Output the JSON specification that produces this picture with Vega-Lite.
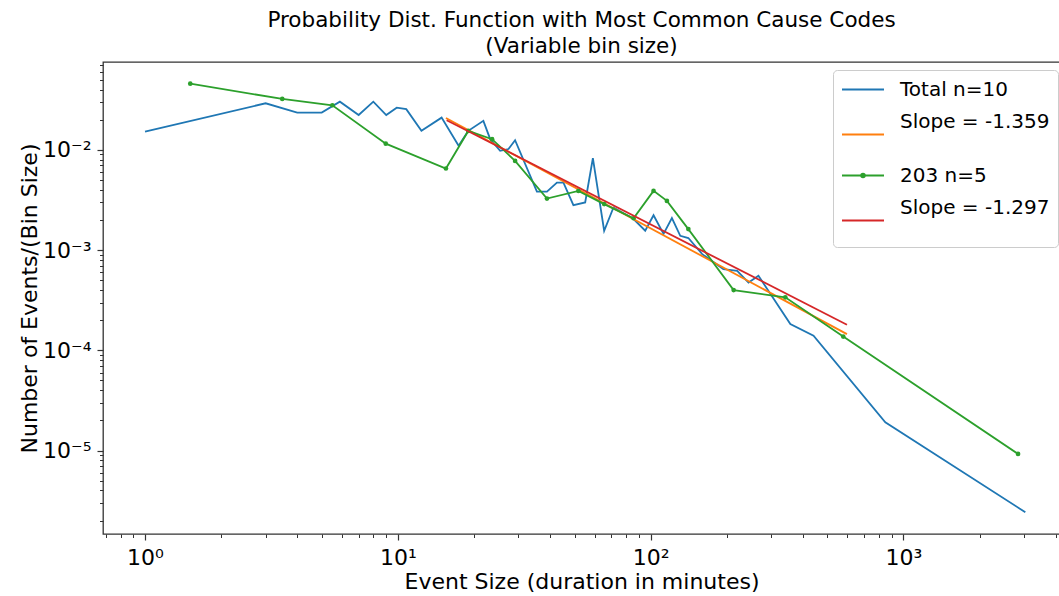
{
  "$schema": "https://vega.github.io/schema/vega-lite/v6.json",
  "width": 957,
  "height": 472,
  "autosize": {"type": "none"},
  "padding": {"left": 103, "top": 62, "right": 0, "bottom": 62},
  "config": {
    "font": "DejaVu Sans",
    "view": {"stroke": "#333333", "strokeWidth": 1.3},
    "axis": {
      "grid": false,
      "domain": false,
      "labelFont": "DejaVu Sans",
      "labelFontSize": 22,
      "labelColor": "#000000",
      "tickColor": "#333333",
      "titleFont": "DejaVu Sans",
      "titleFontSize": 22,
      "titleFontWeight": "normal",
      "titleColor": "#000000"
    }
  },
  "title": {
    "text": ["Probability Dist. Function with Most Common Cause Codes", "(Variable bin size)"],
    "fontSize": 21.5,
    "fontWeight": "normal",
    "font": "DejaVu Sans",
    "color": "#000000",
    "lineHeight": 26,
    "anchor": "middle",
    "offset": 5
  },
  "data": {
    "values": [
      {"series": "Total n=10", "x": 1, "y": 0.0152},
      {"series": "Total n=10", "x": 3, "y": 0.0292},
      {"series": "Total n=10", "x": 4, "y": 0.0236},
      {"series": "Total n=10", "x": 5, "y": 0.0236},
      {"series": "Total n=10", "x": 5.9, "y": 0.0303},
      {"series": "Total n=10", "x": 7, "y": 0.0223},
      {"series": "Total n=10", "x": 8, "y": 0.0303},
      {"series": "Total n=10", "x": 9, "y": 0.0223},
      {"series": "Total n=10", "x": 9.9, "y": 0.0264},
      {"series": "Total n=10", "x": 10.8, "y": 0.0255},
      {"series": "Total n=10", "x": 12.4, "y": 0.0155},
      {"series": "Total n=10", "x": 14.9, "y": 0.021},
      {"series": "Total n=10", "x": 17.4, "y": 0.011},
      {"series": "Total n=10", "x": 19, "y": 0.0155},
      {"series": "Total n=10", "x": 21.8, "y": 0.0195},
      {"series": "Total n=10", "x": 23.2, "y": 0.0128},
      {"series": "Total n=10", "x": 25.4, "y": 0.0098},
      {"series": "Total n=10", "x": 27.4, "y": 0.0102},
      {"series": "Total n=10", "x": 29.1, "y": 0.0125},
      {"series": "Total n=10", "x": 35.5, "y": 0.00384},
      {"series": "Total n=10", "x": 38.9, "y": 0.00384},
      {"series": "Total n=10", "x": 42.6, "y": 0.00472},
      {"series": "Total n=10", "x": 45.2, "y": 0.00472},
      {"series": "Total n=10", "x": 49.5, "y": 0.00281},
      {"series": "Total n=10", "x": 55.1, "y": 0.00299},
      {"series": "Total n=10", "x": 59.1, "y": 0.00826},
      {"series": "Total n=10", "x": 65.5, "y": 0.00156},
      {"series": "Total n=10", "x": 71.3, "y": 0.00266},
      {"series": "Total n=10", "x": 85.6, "y": 0.00204},
      {"series": "Total n=10", "x": 95.2, "y": 0.00156},
      {"series": "Total n=10", "x": 102.7, "y": 0.00223},
      {"series": "Total n=10", "x": 112.5, "y": 0.00145},
      {"series": "Total n=10", "x": 121.4, "y": 0.00209},
      {"series": "Total n=10", "x": 131, "y": 0.00139},
      {"series": "Total n=10", "x": 141, "y": 0.00132},
      {"series": "Total n=10", "x": 160, "y": 0.000912},
      {"series": "Total n=10", "x": 194, "y": 0.000647},
      {"series": "Total n=10", "x": 220, "y": 0.000622},
      {"series": "Total n=10", "x": 244, "y": 0.000475},
      {"series": "Total n=10", "x": 267, "y": 0.000555},
      {"series": "Total n=10", "x": 357, "y": 0.000183},
      {"series": "Total n=10", "x": 441, "y": 0.00014},
      {"series": "Total n=10", "x": 848, "y": 0.0000191},
      {"series": "Total n=10", "x": 3036, "y": 0.00000242},
      {"series": "Slope = -1.359", "x": 15.5, "y": 0.0208},
      {"series": "Slope = -1.359", "x": 598, "y": 0.000145},
      {"series": "203 n=5", "x": 1.51, "y": 0.0458},
      {"series": "203 n=5", "x": 3.49, "y": 0.0323},
      {"series": "203 n=5", "x": 5.51, "y": 0.0279},
      {"series": "203 n=5", "x": 8.96, "y": 0.01155},
      {"series": "203 n=5", "x": 15.5, "y": 0.00652},
      {"series": "203 n=5", "x": 19, "y": 0.01546},
      {"series": "203 n=5", "x": 23.6, "y": 0.0128},
      {"series": "203 n=5", "x": 29.1, "y": 0.00777},
      {"series": "203 n=5", "x": 38.9, "y": 0.00327},
      {"series": "203 n=5", "x": 51.8, "y": 0.0039},
      {"series": "203 n=5", "x": 65.5, "y": 0.00288},
      {"series": "203 n=5", "x": 85.6, "y": 0.00208},
      {"series": "203 n=5", "x": 102.7, "y": 0.0039},
      {"series": "203 n=5", "x": 116, "y": 0.0031},
      {"series": "203 n=5", "x": 141, "y": 0.00162},
      {"series": "203 n=5", "x": 213, "y": 0.000399},
      {"series": "203 n=5", "x": 341, "y": 0.000338},
      {"series": "203 n=5", "x": 578, "y": 0.000137},
      {"series": "203 n=5", "x": 2841, "y": 0.00000925},
      {"series": "Slope = -1.297", "x": 15.6, "y": 0.0198},
      {"series": "Slope = -1.297", "x": 598, "y": 0.00018}
    ]
  },
  "layer": [
    {
      "transform": [{"filter": "datum.series === 'Total n=10'"}],
      "mark": {"type": "line", "strokeWidth": 1.8, "clip": true},
      "encoding": {
        "x": {
          "field": "x", "type": "quantitative",
          "scale": {"type": "log", "domain": [0.682, 4163], "nice": false},
          "axis": {
            "orient": "bottom",
            "values": [1, 10, 100, 1000],
            "title": "Event Size (duration in minutes)",
            "labelExpr": "'10' + (datum.value < 1 ? '⁻' : '') + ['⁰','¹','²','³','⁴','⁵','⁶'][abs(round(log(datum.value)/LN10))]",
            "tickSize": 6,
            "tickWidth": 1.2,
            "labelPadding": 7,
            "titlePadding": 3
          }
        },
        "y": {
          "field": "y", "type": "quantitative",
          "scale": {"type": "log", "domain": [0.000001468, 0.0754], "nice": false},
          "axis": {
            "orient": "left",
            "values": [0.00001, 0.0001, 0.001, 0.01],
            "title": "Number of Events/(Bin Size)",
            "labelExpr": "'10' + (datum.value < 1 ? '⁻' : '') + ['⁰','¹','²','³','⁴','⁵','⁶'][abs(round(log(datum.value)/LN10))]",
            "tickSize": 6,
            "tickWidth": 1.2,
            "labelPadding": 6,
            "titlePadding": 1
          }
        },
        "color": {
          "field": "series", "type": "nominal",
          "scale": {
            "domain": ["Total n=10", "Slope = -1.359", "203 n=5", "Slope = -1.297"],
            "range": ["#1f77b4", "#ff7f0e", "#2ca02c", "#d62728"]
          },
          "legend": {
            "orient": "none",
            "legendX": 730,
            "legendY": 8,
            "title": null,
            "symbolType": "M-1,0H3",
            "symbolSize": 441,
            "symbolStrokeWidth": 1.8,
            "labelFont": "DejaVu Sans",
            "labelFontSize": 20,
            "labelColor": "#000000",
            "labelOffset": 36,
            "labelLimit": 400,
            "padding": 8,
            "rowPadding": 11,
            "fillColor": "#ffffff",
            "strokeColor": "#cccccc",
            "cornerRadius": 4,
            "encode": {
              "symbols": {
                "update": {
                  "shape": {"signal": "datum.value === '203 n=5' ? 'M-1,0H3M0.82,0A0.18,0.18,0,1,1,1.18,0A0.18,0.18,0,1,1,0.82,0' : (indexof(datum.value, 'Slope') === 0 ? 'M-1,0H3M1,1.38' : 'M-1,0H3')"}
                }
              },
              "labels": {
                "update": {
                  "dy": {"signal": "indexof(datum.value, 'Slope') === 0 ? -13 : 0"}
                }
              }
            }
          }
        }
      }
    },
    {
      "transform": [{"filter": "datum.series === 'Slope = -1.359'"}],
      "mark": {"type": "line", "strokeWidth": 1.8, "clip": true},
      "encoding": {
        "x": {"field": "x", "type": "quantitative", "scale": {"type": "log", "domain": [0.682, 4163], "nice": false}, "axis": null},
        "y": {"field": "y", "type": "quantitative", "scale": {"type": "log", "domain": [0.000001468, 0.0754], "nice": false}, "axis": null},
        "color": {"field": "series", "type": "nominal"}
      }
    },
    {
      "transform": [{"filter": "datum.series === '203 n=5'"}],
      "mark": {"type": "line", "strokeWidth": 1.8, "clip": true},
      "encoding": {
        "x": {"field": "x", "type": "quantitative", "scale": {"type": "log", "domain": [0.682, 4163], "nice": false}, "axis": null},
        "y": {"field": "y", "type": "quantitative", "scale": {"type": "log", "domain": [0.000001468, 0.0754], "nice": false}, "axis": null},
        "color": {"field": "series", "type": "nominal"}
      }
    },
    {
      "transform": [{"filter": "datum.series === '203 n=5'"}],
      "mark": {"type": "point", "filled": true, "size": 22, "color": "#2ca02c", "opacity": 1, "clip": true},
      "encoding": {
        "x": {"field": "x", "type": "quantitative", "scale": {"type": "log", "domain": [0.682, 4163], "nice": false}, "axis": null},
        "y": {"field": "y", "type": "quantitative", "scale": {"type": "log", "domain": [0.000001468, 0.0754], "nice": false}, "axis": null}
      }
    },
    {
      "transform": [{"filter": "datum.series === 'Slope = -1.297'"}],
      "mark": {"type": "line", "strokeWidth": 1.8, "clip": true},
      "encoding": {
        "x": {"field": "x", "type": "quantitative", "scale": {"type": "log", "domain": [0.682, 4163], "nice": false}, "axis": null},
        "y": {"field": "y", "type": "quantitative", "scale": {"type": "log", "domain": [0.000001468, 0.0754], "nice": false}, "axis": null},
        "color": {"field": "series", "type": "nominal"}
      }
    },
    {
      "transform": [{"filter": "datum.series === 'Total n=10'"}],
      "mark": {"type": "point", "opacity": 0},
      "encoding": {
        "x": {
          "field": "x", "type": "quantitative",
          "scale": {"type": "log", "domain": [0.682, 4163], "nice": false},
          "axis": {
            "orient": "bottom",
            "values": [0.7, 0.8, 0.9, 2, 3, 4, 5, 6, 7, 8, 9, 20, 30, 40, 50, 60, 70, 80, 90, 200, 300, 400, 500, 600, 700, 800, 900, 2000, 3000, 4000],
            "labels": false,
            "title": null,
            "tickSize": 3.5,
            "tickWidth": 1
          }
        },
        "y": {
          "field": "y", "type": "quantitative",
          "scale": {"type": "log", "domain": [0.000001468, 0.0754], "nice": false},
          "axis": {
            "orient": "left",
            "values": [0.000002, 0.000003, 0.000004, 0.000005, 0.000006, 0.000007, 0.000008, 0.000009, 0.00002, 0.00003, 0.00004, 0.00005, 0.00006, 0.00007, 0.00008, 0.00009, 0.0002, 0.0003, 0.0004, 0.0005, 0.0006, 0.0007, 0.0008, 0.0009, 0.002, 0.003, 0.004, 0.005, 0.006, 0.007, 0.008, 0.009, 0.02, 0.03, 0.04, 0.05, 0.06, 0.07],
            "labels": false,
            "title": null,
            "tickSize": 3.5,
            "tickWidth": 1
          }
        }
      }
    }
  ],
  "resolve": {"axis": {"x": "independent", "y": "independent"}}
}
